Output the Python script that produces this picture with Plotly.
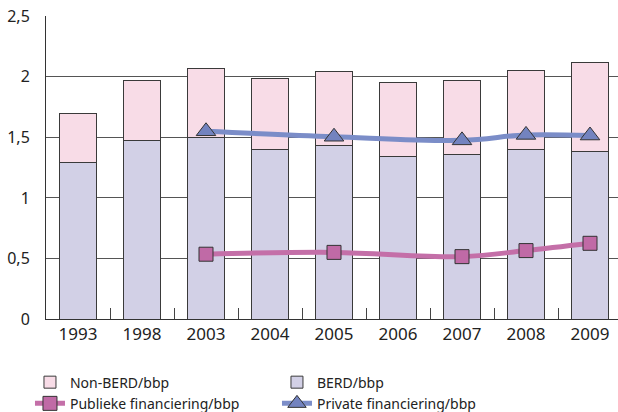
import plotly.graph_objects as go

years = ["1993", "1998", "2003", "2004", "2005", "2006", "2007", "2008", "2009"]
berd = [1.29, 1.47, 1.50, 1.40, 1.43, 1.34, 1.36, 1.40, 1.38]
non_berd = [0.41, 0.50, 0.57, 0.59, 0.61, 0.61, 0.61, 0.65, 0.74]

line_years = ["2003", "2005", "2007", "2008", "2009"]
publiek = [0.535, 0.55, 0.515, 0.565, 0.625]
private = [1.55, 1.505, 1.475, 1.52, 1.515]

font = "Noto Sans"
fig = go.Figure()
fig.add_trace(go.Bar(x=years, y=berd, name="BERD/bbp", legendrank=2,
                     marker=dict(color="#D2D0E6", line=dict(color="#3a3a3a", width=1)),
                     width=0.58))
fig.add_trace(go.Bar(x=years, y=non_berd, name="Non-BERD/bbp", legendrank=1,
                     marker=dict(color="#F8DCE7", line=dict(color="#3a3a3a", width=1)),
                     width=0.58))
fig.add_trace(go.Scatter(x=line_years, y=publiek, name="Publieke financiering/bbp", legendrank=3,
                         mode="lines+markers", line=dict(color="#C46FA8", width=5, shape="spline"),
                         marker=dict(symbol="square", size=14, color="#C06AA6",
                                     line=dict(color="#333333", width=1))))
fig.add_trace(go.Scatter(x=line_years, y=private, name="Private financiering/bbp", legendrank=4,
                         mode="lines+markers", line=dict(color="#7B8DC8", width=5, shape="spline"),
                         marker=dict(symbol="triangle-up", size=17, color="#7383BF",
                                     line=dict(color="#333333", width=1))))

fig.update_layout(
    width=618, height=412,
    margin=dict(l=46, r=0, t=16, b=93, autoexpand=False),
    barmode="stack",
    separators=", ",
    plot_bgcolor="white", paper_bgcolor="white",
    font=dict(family=font, size=14, color="#222222"),
    legend=dict(orientation="h", x=-0.028, y=-0.157, xanchor="left", yanchor="top",
                entrywidth=202, entrywidthmode="pixels", font=dict(size=14),
                traceorder="normal", tracegroupgap=0),
    showlegend=True,
)
fig.update_xaxes(type="category", categoryorder="array", categoryarray=years,
                 range=[-0.5, 8.4375], ticks="inside", tickson="boundaries",
                 ticklen=11, tickcolor="#444444", showline=True, linecolor="#333333",
                 linewidth=1, showgrid=False, tickfont=dict(size=17))
fig.update_yaxes(range=[0, 2.502], dtick=0.5, showgrid=True, gridcolor="#555555", gridwidth=1,
                 showline=True, linecolor="#333333", linewidth=1, zeroline=False,
                 ticks="", ticklabelstandoff=12, tickfont=dict(size=16))

fig.write_html("out.html", config={"displayModeBar": False},
               post_script="document.body.style.margin='0';")
